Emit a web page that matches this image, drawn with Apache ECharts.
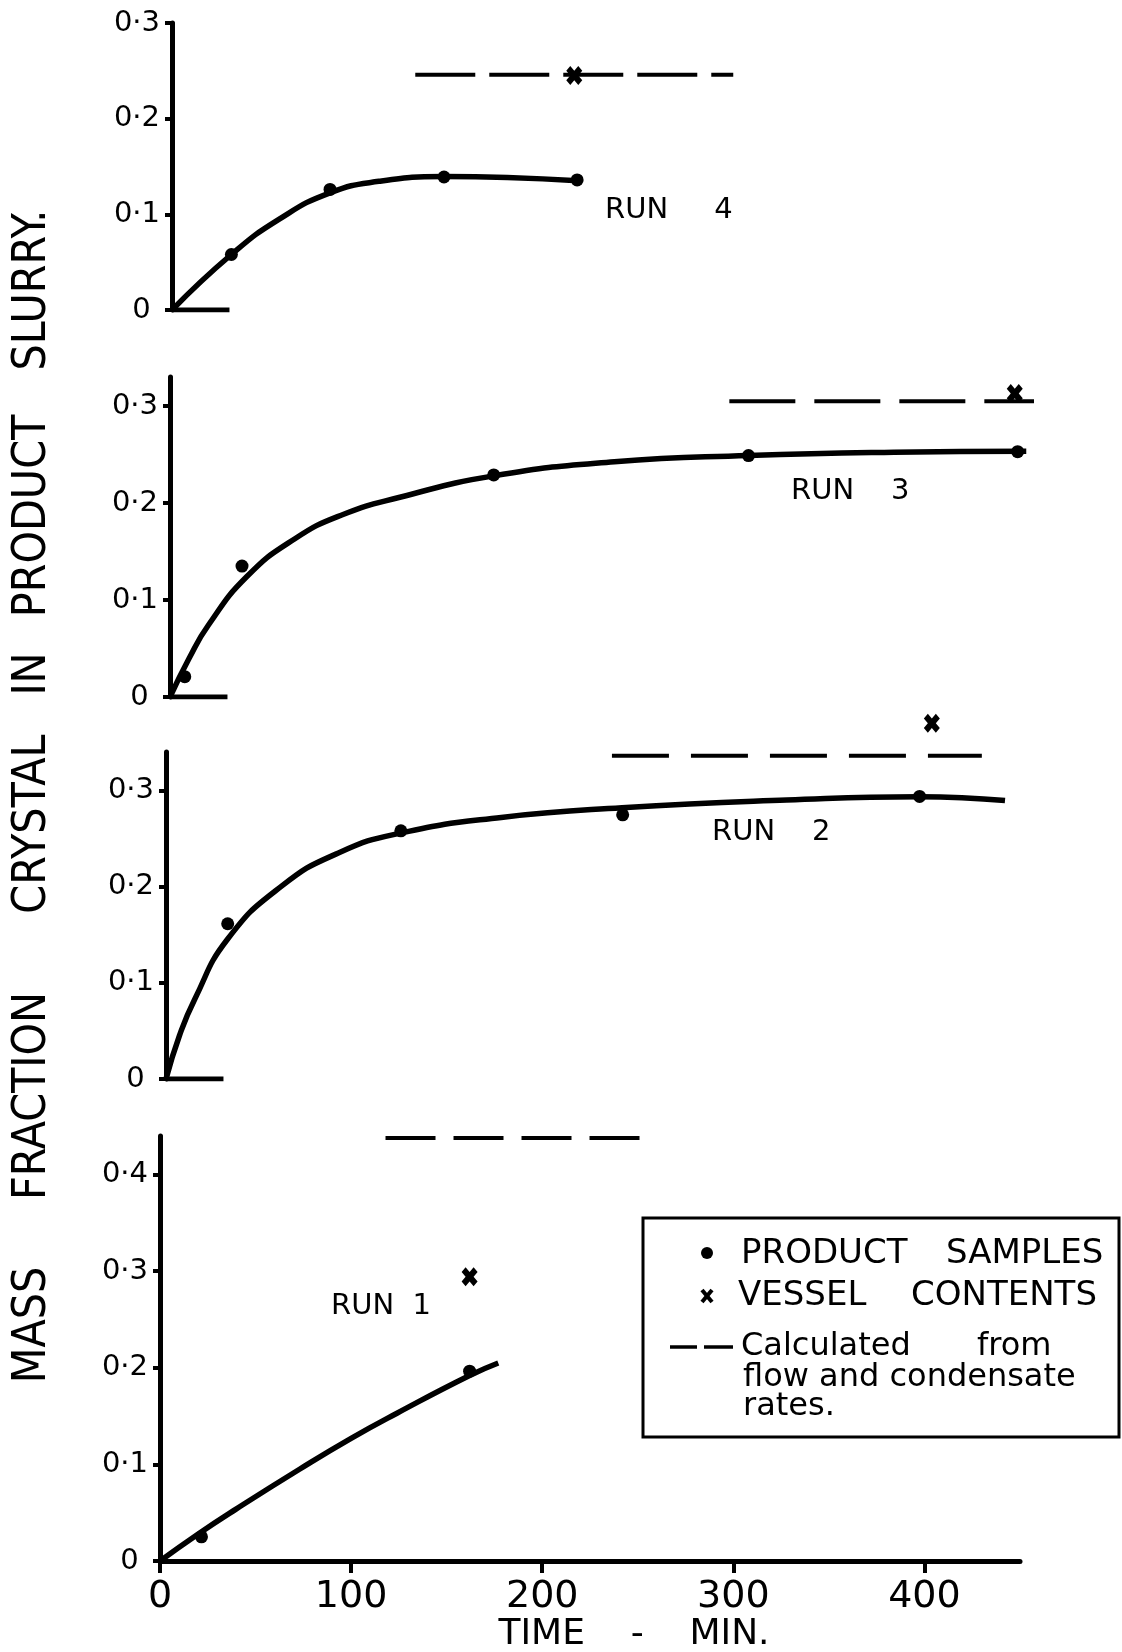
<!DOCTYPE html>
<html>
<head>
<meta charset="utf-8">
<title>Mass fraction crystal in product slurry</title>
<script src="https://cdn.jsdelivr.net/npm/echarts@6/dist/echarts.min.js"></script>
<style>
  html, body { margin: 0; padding: 0; background: #fff; }
  #main { width: 1122px; height: 1652px; }
</style>
</head>
<body>
<div id="main"></div>
<script>
// time in min, mass fraction crystal; run 4 is the top panel, run 1 the bottom one
var run4SampleT = [31, 82.5, 142, 211.5];
var run4SampleY = [0.058, 0.126, 0.139, 0.136];
var run4CurveT = [0, 31, 56, 82.5, 108, 142, 175, 212];
var run4CurveY = [0, 0.058, 0.095, 0.1225, 0.1345, 0.1395, 0.1385, 0.135];
var run4Vessel = [210, 0.245];
var run4CalcT = [127, 293];
var run4CalcY = 0.246;

var run3SampleT = [7.7, 37.6, 169, 302, 442.5];
var run3SampleY = [0.021, 0.135, 0.229, 0.249, 0.253];
var run3CurveT = [0, 10, 20, 40, 65, 90, 120, 169, 232, 302, 378, 447];
var run3CurveY = [0, 0.04, 0.074, 0.124, 0.163, 0.188, 0.206, 0.228, 0.2425, 0.249, 0.2525, 0.2535];
var run3Vessel = [441, 0.313];
var run3CalcT = [292, 458.6];
var run3CalcY = 0.305;

var run2SampleT = [32.2, 122.6, 238.4, 393.4];
var run2SampleY = [0.1614, 0.258, 0.2747, 0.2938];
var run2CurveT = [0, 7, 15, 32, 60, 90, 123, 175, 238, 324, 393, 438];
var run2CurveY = [0, 0.045, 0.083, 0.145, 0.2, 0.235, 0.256, 0.272, 0.282, 0.29, 0.2935, 0.2895];
var run2Vessel = [399.8, 0.37];
var run2CalcT = [232.8, 425.9];
var run2CalcY = 0.336;

var run1SampleT = [21.7, 162];
var run1SampleY = [0.025, 0.1965];
var run1CurveT = [0, 20, 40, 73, 100, 124, 162, 177];
var run1CurveY = [0, 0.028, 0.054, 0.095, 0.127, 0.153, 0.192, 0.205];
var run1Vessel = [162, 0.2944];
var run1CalcT = [118, 251];
var run1CalcY = 0.438;

// short zero line drawn at the foot of runs 4, 3, 2
var stubT = [0, 30];

var timeTicks = [0, 100, 200, 300, 400];
var fracTicks3 = [0, 0.1, 0.2, 0.3];
var fracTicks4 = [0, 0.1, 0.2, 0.3, 0.4];

var runNames = ['RUN     4', 'RUN    3', 'RUN    2', 'RUN  1'];

var FONT = '"DejaVu Sans", sans-serif';
var NARROW = '"Liberation Sans Narrow", "DejaVu Sans Condensed", "DejaVu Sans", sans-serif';
var CROSS = 'path://M0,2.5 L2.5,0 L5,2.5 L7.5,0 L10,2.5 L7.5,5 L10,7.5 L7.5,10 L5,7.5 L2.5,10 L0,7.5 L2.5,5 Z';

function pairs(xs, ys) {
    var out = [];
    for (var i = 0; i < xs.length; i++) out.push([xs[i], ys[i]]);
    return out;
}

function fracLabel(v) {
    if (Math.abs(v * 10 - Math.round(v * 10)) > 1e-6) return '';
    if (v === 0) return '0 ';
    return '0·' + Math.round(v * 10);
}

var grids = [
    {left: 172, right: 88, top: 23, bottom: 1342},
    {left: 170, right: 90, top: 377, bottom: 955},
    {left: 166, right: 94, top: 752, bottom: 573},
    {left: 160, right: 102, top: 1136, bottom: 91}
];
var yMax = [0.3, 0.33, 0.34, 0.44];
var yTicks = [fracTicks3, fracTicks3, fracTicks3, fracTicks4];
var dashes = [[60, 14], [66, 19], [57, 22], [50, 18]];

var runs = [
    {s: pairs(run4SampleT, run4SampleY), c: pairs(run4CurveT, run4CurveY), v: run4Vessel, k: run4CalcT, ky: run4CalcY},
    {s: pairs(run3SampleT, run3SampleY), c: pairs(run3CurveT, run3CurveY), v: run3Vessel, k: run3CalcT, ky: run3CalcY},
    {s: pairs(run2SampleT, run2SampleY), c: pairs(run2CurveT, run2CurveY), v: run2Vessel, k: run2CalcT, ky: run2CalcY},
    {s: pairs(run1SampleT, run1SampleY), c: pairs(run1CurveT, run1CurveY), v: run1Vessel, k: run1CalcT, ky: run1CalcY}
];

var xAxes = [], yAxes = [], series = [];
grids.forEach(function (g, i) {
    g.outerBoundsMode = 'none';
    var last = i === 3;
    xAxes.push({
        gridIndex: i, type: 'value', min: 0, max: 450, interval: 100,
        show: last,
        name: last ? 'TIME    -    MIN.' : '',
        nameLocation: 'middle', nameGap: 54,
        nameTextStyle: {fontFamily: FONT, fontSize: 36, color: '#000', padding: [0, 0, 0, 88]},
        axisLine: {show: true, onZero: false, lineStyle: {color: '#000', width: 5}},
        axisTick: {show: true, length: 12, lineStyle: {color: '#000', width: 4}, customValues: timeTicks},
        axisLabel: {fontFamily: FONT, fontSize: 38, color: '#000', margin: 17, customValues: timeTicks},
        splitLine: {show: false}
    });
    yAxes.push({
        gridIndex: i, type: 'value', min: 0, max: yMax[i], interval: 0.1,
        axisLine: {show: true, onZero: false, lineStyle: {color: '#000', width: 5}},
        axisTick: {show: true, length: 7, lineStyle: {color: '#000', width: 4}, customValues: yTicks[i]},
        axisLabel: {fontFamily: FONT, fontSize: 29, color: '#000', margin: 12, formatter: fracLabel, customValues: yTicks[i]},
        splitLine: {show: false}
    });

    var r = runs[i];
    series.push({
        type: 'line', xAxisIndex: i, yAxisIndex: i, data: r.c,
        smooth: 0.5, showSymbol: false, silent: true, z: 3,
        lineStyle: {color: '#000', width: 5.5}
    });
    series.push({
        name: 'PRODUCT SAMPLES', type: 'scatter', xAxisIndex: i, yAxisIndex: i, data: r.s,
        symbol: 'circle', symbolSize: 13, z: 4, itemStyle: {color: '#000', opacity: 1}
    });
    series.push({
        name: 'VESSEL CONTENTS', type: 'scatter', xAxisIndex: i, yAxisIndex: i, data: [r.v],
        symbol: CROSS, symbolSize: [16, 19], z: 4, clip: false, itemStyle: {color: '#000', opacity: 1}
    });
    series.push({
        name: 'Calculated from flow and condensate rates.', type: 'line', xAxisIndex: i, yAxisIndex: i,
        data: [[r.k[0], r.ky], [r.k[1], r.ky]], showSymbol: false, clip: false, z: 2,
        lineStyle: {color: '#000', width: 4, type: dashes[i]}
    });
    if (!last) {
        series.push({
            type: 'line', xAxisIndex: i, yAxisIndex: i,
            data: [[stubT[0], 0], [stubT[1], 0]], showSymbol: false, z: 2,
            lineStyle: {color: '#000', width: 5}
        });
    }
});

function txt(x, y, s, size, font, extra) {
    var e = {type: 'text', x: x, y: y, silent: true,
        style: {text: s, fill: '#000', font: size + 'px ' + (font || FONT), align: 'left', verticalAlign: 'middle'}};
    if (extra) for (var k in extra) e[k] = extra[k];
    return e;
}
function ytitle(y, s) {
    var e = txt(33, y, s, 46, NARROW, {rotation: Math.PI / 2});
    e.style.align = 'center';
    return e;
}

var graphics = [
    ytitle(1325, 'MASS'), ytitle(1096, 'FRACTION'), ytitle(824, 'CRYSTAL'),
    ytitle(674, 'IN'), ytitle(516, 'PRODUCT'), ytitle(290, 'SLURRY.'),
    txt(605, 210, runNames[0], 29), txt(791, 491, runNames[1], 29),
    txt(712, 832, runNames[2], 29), txt(331, 1306, runNames[3], 29),
    // key box
    {type: 'rect', shape: {x: 643, y: 1218, width: 476, height: 219}, silent: true,
        style: {fill: 'none', stroke: '#000', lineWidth: 3}},
    {type: 'circle', shape: {cx: 707, cy: 1253, r: 6}, silent: true, style: {fill: '#000'}},
    {type: 'line', shape: {x1: 702, y1: 1290, x2: 712, y2: 1302}, silent: true, style: {stroke: '#000', lineWidth: 4}},
    {type: 'line', shape: {x1: 712, y1: 1290, x2: 702, y2: 1302}, silent: true, style: {stroke: '#000', lineWidth: 4}},
    {type: 'line', shape: {x1: 670, y1: 1347, x2: 697, y2: 1347}, silent: true, style: {stroke: '#000', lineWidth: 3.5}},
    {type: 'line', shape: {x1: 704, y1: 1347, x2: 733, y2: 1347}, silent: true, style: {stroke: '#000', lineWidth: 3.5}},
    txt(741, 1254, 'PRODUCT', 34), txt(946, 1254, 'SAMPLES', 34),
    txt(738, 1296, 'VESSEL', 34), txt(911, 1296, 'CONTENTS', 34),
    txt(741, 1347, 'Calculated', 32), txt(977, 1347, 'from', 32),
    txt(743, 1378, 'flow and condensate', 32),
    txt(743, 1407, 'rates.', 32)
];

var chart = echarts.init(document.getElementById('main'), null, {renderer: 'canvas'});
chart.setOption({
    backgroundColor: '#fff',
    animation: false,
    grid: grids,
    xAxis: xAxes,
    yAxis: yAxes,
    series: series,
    graphic: graphics
});
</script>
</body>
</html>
